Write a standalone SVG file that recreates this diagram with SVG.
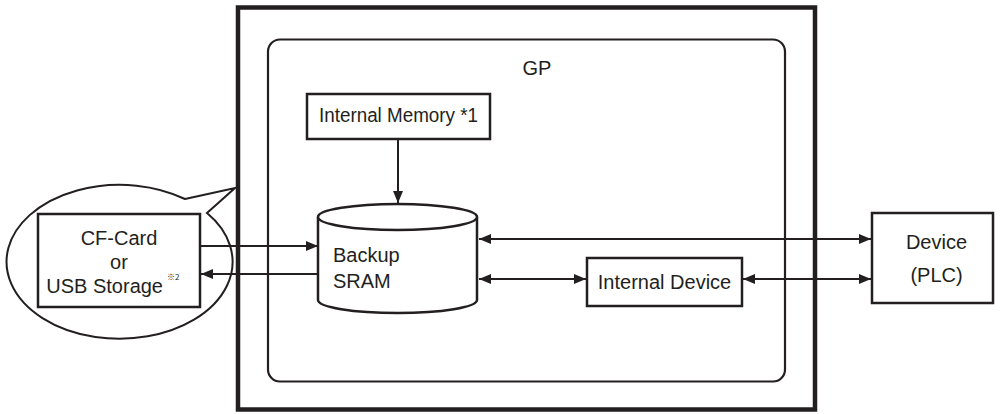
<svg xmlns="http://www.w3.org/2000/svg" width="1000" height="414" viewBox="0 0 1000 414">
<defs>
<marker id="ah" viewBox="0 0 12 10" refX="12" refY="5" markerWidth="12" markerHeight="10" markerUnits="userSpaceOnUse" orient="auto-start-reverse">
<path d="M0,0 L12,5 L0,10 Z" fill="#231f20"/>
</marker>
<style>
.box{fill:#fff;stroke:#231f20;stroke-width:2.5}
.t{font-family:"Liberation Sans",Arial,sans-serif;fill:#231f20;font-size:20px}
.sup{font-family:"Noto Sans CJK JP","Liberation Sans",sans-serif;fill:#231f20;font-size:8px}
.ln{stroke:#231f20;stroke-width:2;fill:none}
</style>
</defs>
<rect width="1000" height="414" fill="#fff"/>
<g id="gp-outer">
<rect x="238" y="7.5" width="577" height="402" fill="none" stroke="#231f20" stroke-width="4.5"/>
</g>
<g id="gp">
<rect x="268" y="39.5" width="517" height="342" rx="12" fill="none" stroke="#231f20" stroke-width="2.2"/>
<text class="t" x="537" y="75" text-anchor="middle" font-size="24">GP</text>
</g>
<g id="callout">
<path d="M185,199 L235,188 L207,213 A113,77 0 1 1 185,199 Z" fill="#fff" stroke="#231f20" stroke-width="2"/>
</g>
<g id="cf-card">
<rect class="box" x="38" y="214" width="162" height="93"/>
<text class="t" x="119" y="245" text-anchor="middle">CF-Card</text>
<text class="t" x="119" y="269" text-anchor="middle">or</text>
<text class="t" x="163" y="293" font-size="16" text-anchor="end">USB Storage</text>
<text class="sup" x="167" y="280">※2</text>
</g>
<g id="internal-memory">
<rect class="box" x="307" y="94" width="183" height="45"/>
<text class="t" x="319" y="122" textLength="159" lengthAdjust="spacingAndGlyphs">Internal Memory *1</text>
</g>
<g id="backup-sram">
<path d="M318,217 L318,300 A79.5,13 0 0 0 477,300 L477,217" fill="#fff" stroke="#231f20" stroke-width="2.5"/>
<ellipse cx="397.5" cy="217" rx="79.5" ry="13" fill="#fff" stroke="#231f20" stroke-width="2.5"/>
<text class="t" x="333" y="262">Backup</text>
<text class="t" x="333" y="288">SRAM</text>
</g>
<g id="internal-device">
<rect class="box" x="587" y="258" width="155" height="48"/>
<text class="t" x="664.5" y="289" text-anchor="middle">Internal Device</text>
</g>
<g id="device">
<rect class="box" x="872" y="213" width="121" height="90"/>
<text class="t" x="936.5" y="249" text-anchor="middle">Device</text>
<text class="t" x="936.5" y="282" text-anchor="middle">(PLC)</text>
</g>
<g id="connectors">
<line class="ln" x1="398" y1="139" x2="398" y2="203" marker-end="url(#ah)"/>
<line class="ln" x1="201" y1="246" x2="318" y2="246" marker-end="url(#ah)"/>
<line class="ln" x1="318" y1="274" x2="201" y2="274" marker-end="url(#ah)"/>
<line class="ln" x1="479" y1="239" x2="871" y2="239" marker-start="url(#ah)" marker-end="url(#ah)"/>
<line class="ln" x1="479" y1="279" x2="586" y2="279" marker-start="url(#ah)" marker-end="url(#ah)"/>
<line class="ln" x1="743" y1="279" x2="871" y2="279" marker-start="url(#ah)" marker-end="url(#ah)"/>
</g>
</svg>
